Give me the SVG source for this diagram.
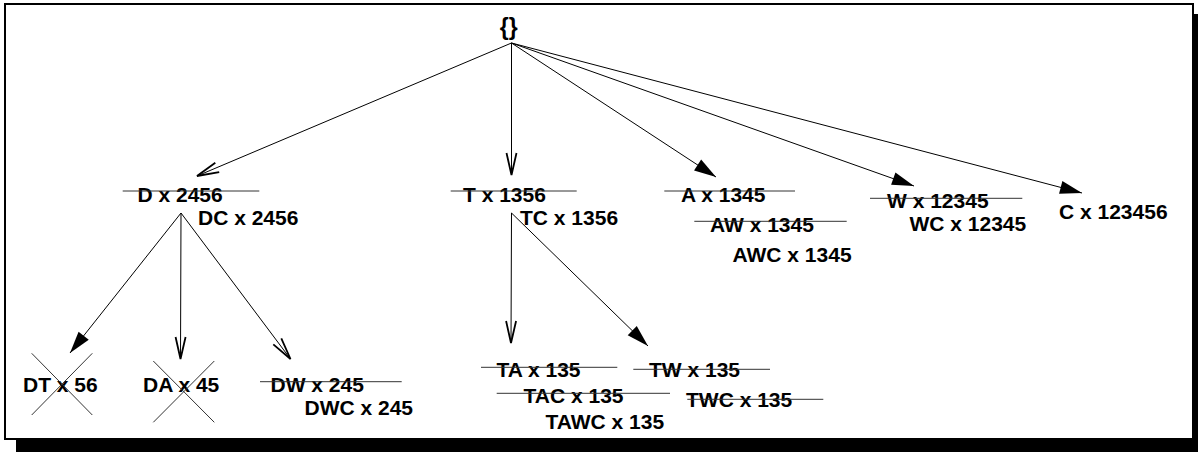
<svg xmlns="http://www.w3.org/2000/svg" width="1198" height="452" viewBox="0 0 1198 452">
<style>
.t{font-family:"Liberation Sans",Arial,Helvetica,sans-serif;font-weight:bold;font-size:21px;fill:#000}
.s{stroke:#333;stroke-width:1;fill:none}
.e{stroke:#000;stroke-width:1;fill:none}
.ef{marker-end:url(#af)}
.eo{marker-end:url(#ao)}
</style>
<defs>
<marker id="af" markerUnits="userSpaceOnUse" markerWidth="26" markerHeight="18" viewBox="-24 -9 26 18" refX="0" refY="0" orient="auto">
<path d="M0,0 L-22,-6.5 L-22,6.5 Z" fill="#000"/>
</marker>
<marker id="ao" markerUnits="userSpaceOnUse" markerWidth="26" markerHeight="18" viewBox="-24 -9 26 18" refX="0" refY="0" orient="auto">
<path d="M-22,-5 L0,0 L-22,5" fill="none" stroke="#000" stroke-width="1.8" stroke-linejoin="miter"/>
</marker>
</defs>
<g id="frame">
<rect x="16" y="14" width="1200" height="450" fill="#000"/>
<rect x="5" y="4" width="1188" height="435" fill="#fff" stroke="#000" stroke-width="2"/>
</g>
<g id="connectors">
<line class="e eo" x1="511.5" y1="43" x2="197" y2="176"/>
<line class="e eo" x1="511.5" y1="43" x2="511.5" y2="175"/>
<line class="e ef" x1="511.5" y1="43" x2="716" y2="177"/>
<line class="e ef" x1="511.5" y1="43" x2="914" y2="186"/>
<line class="e ef" x1="511.5" y1="43" x2="1082" y2="193"/>
<line class="e ef" x1="181" y1="213" x2="70" y2="353"/>
<line class="e eo" x1="181" y1="213" x2="180.5" y2="359"/>
<line class="e eo" x1="181" y1="213" x2="290.5" y2="359"/>
<line class="e eo" x1="511.5" y1="213" x2="511" y2="343"/>
<line class="e ef" x1="511.5" y1="213" x2="648" y2="346"/>
</g>
<g id="root"><text class="t" x="508.7" y="35" text-anchor="middle" style="font-size:23px">{}</text></g>
<g id="D"><text class="t" x="137.5" y="201.5">D x 2456</text><line class="s" x1="122.7" y1="191" x2="259.3" y2="191"/>
<text class="t" x="198" y="224.5">DC x 2456</text></g>
<g id="T"><text class="t" x="463" y="201.5">T x 1356</text><line class="s" x1="450.7" y1="191" x2="576.7" y2="191"/>
<text class="t" x="520" y="224.5">TC x 1356</text></g>
<g id="A"><text class="t" x="681" y="201.5">A x 1345</text><line class="s" x1="664.3" y1="191" x2="795" y2="191"/>
<text class="t" x="710" y="231.5">AW x 1345</text><line class="s" x1="694.3" y1="221.3" x2="846.7" y2="221.3"/>
<text class="t" x="732.5" y="261.5">AWC x 1345</text></g>
<g id="W"><text class="t" x="887" y="207.5">W x 12345</text><line class="s" x1="870" y1="198.3" x2="1022.3" y2="198.3"/>
<text class="t" x="909.5" y="231">WC x 12345</text></g>
<g id="C"><text class="t" x="1059" y="218.5">C x 123456</text></g>
<g id="DT"><text class="t" x="23" y="391.5">DT x 56</text>
<line class="s" x1="31.7" y1="353.3" x2="92.3" y2="415"/><line class="s" x1="92.3" y1="353.3" x2="31.7" y2="415"/></g>
<g id="DA"><text class="t" x="143" y="391.5">DA x 45</text>
<line class="s" x1="153.3" y1="361" x2="214.3" y2="422.3"/><line class="s" x1="214.3" y1="361" x2="153.3" y2="422.3"/></g>
<g id="DW"><text class="t" x="270.5" y="391.5">DW x 245</text><line class="s" x1="260" y1="381.7" x2="401.7" y2="381.7"/>
<text class="t" x="304.5" y="415">DWC x 245</text></g>
<g id="TA"><text class="t" x="496.5" y="376.5">TA x 135</text><line class="s" x1="481" y1="367.3" x2="617.3" y2="367.3"/>
<text class="t" x="523.5" y="402.5">TAC x 135</text><line class="s" x1="496.7" y1="393.3" x2="670" y2="393.3"/>
<text class="t" x="545.5" y="428.5">TAWC x 135</text></g>
<g id="TW"><text class="t" x="649" y="376.5">TW x 135</text><line class="s" x1="633.3" y1="369.3" x2="770" y2="369.3"/>
<text class="t" x="686" y="406.5">TWC x 135</text><line class="s" x1="687.3" y1="399.3" x2="823.3" y2="399.3"/></g>
</svg>
